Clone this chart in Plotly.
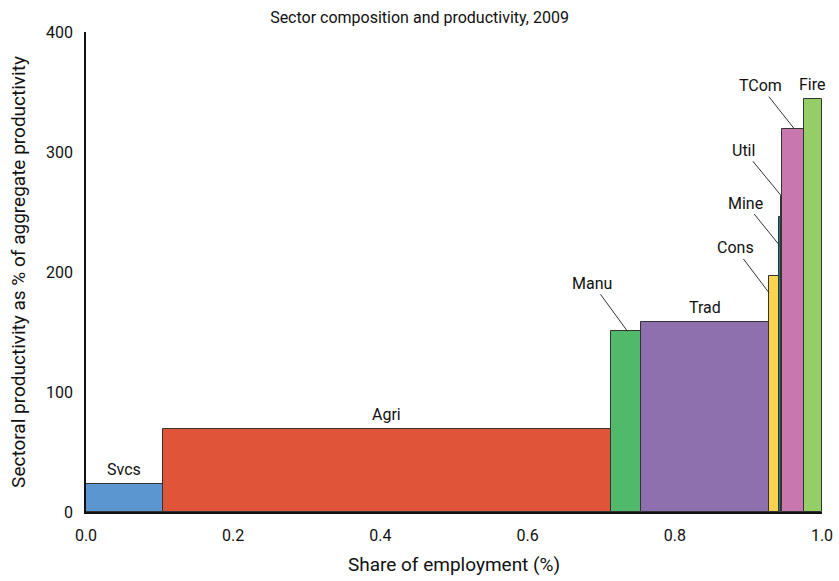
import plotly.graph_objects as go

sectors = ["Svcs", "Agri", "Manu", "Trad", "Cons", "Mine", "Util", "TCom", "Fire"]
shares = [0.1046, 0.6085, 0.0410, 0.1740, 0.0138, 0.0021, 0.0020, 0.0293, 0.0247]
productivity = [23, 69, 151, 158.5, 196.5, 246, 263, 319.5, 344]
colors = ["#5B96D1", "#E0553A", "#51B96A", "#8E70AE", "#FDD24E", "#1F7B85", "#D2691E", "#C877AF", "#95CD67"]

# leader-line labels: (ax, ay, y at leader tip, x fraction across bar)
arrow_labels = {
    "Manu": (-35, -48, 150.6, 0.55),
    "Cons": (-34, -45, 182.6, 0.0),
    "Mine": (-34, -42, 222.5, 0.0),
    "Util": (-37, -45, 264, 0.0),
    "TCom": (-34, -43, 319.5, 0.55),
}

FONT = "Roboto, sans-serif"
FS = 16

lefts = []
acc = 0.0
for s in shares:
    lefts.append(acc)
    acc += s
centers = [l + s / 2 for l, s in zip(lefts, shares)]

fig = go.Figure()
fig.add_trace(go.Bar(
    x=centers, y=productivity, width=shares,
    marker=dict(color=colors, line=dict(color="#333333", width=1)),
    hoverinfo="skip", showlegend=False,
))

annotations = []
for name, l, s, c, p in zip(sectors, lefts, shares, centers, productivity):
    if name in arrow_labels:
        ax, ay, ytip, frac = arrow_labels[name]
        annotations.append(dict(
            x=l + s * frac, y=ytip, xref="x", yref="y", text=name,
            showarrow=True, arrowhead=0, arrowwidth=1, arrowcolor="#333333",
            ax=ax, ay=ay, standoff=0, font=dict(size=FS, color="#111111", family=FONT),
        ))
    else:
        annotations.append(dict(
            x=c, y=p, xref="x", yref="y", text=name, showarrow=False,
            yanchor="bottom", yshift=3, font=dict(size=FS, color="#111111", family=FONT),
        ))

W, H = 839, 581
fig.update_layout(
    width=W, height=H,
    margin=dict(l=86, r=17, t=32, b=69, autoexpand=False),
    paper_bgcolor="white", plot_bgcolor="white",
    font=dict(family=FONT, size=FS, color="#111111"),
    title=dict(text="Sector composition and productivity, 2009", x=0.5, xanchor="center",
               y=1 - 17 / H, yanchor="middle", font=dict(size=FS, family=FONT)),
    bargap=0,
    annotations=annotations,
    xaxis=dict(range=[0, 1], tickvals=[0, 0.2, 0.4, 0.6, 0.8, 1.0], tickformat=".1f",
               showline=True, linecolor="#111111", linewidth=1.5, showgrid=False, zeroline=False,
               ticks="outside", ticklen=8, tickcolor="rgba(0,0,0,0)", ticklabeloverflow="allow",
               title=dict(text="Share of employment (%)", standoff=14)),
    yaxis=dict(range=[0, 400], tickvals=[0, 100, 200, 300, 400],
               showline=True, linecolor="#111111", linewidth=1.5, showgrid=False, zeroline=False,
               ticks="outside", ticklen=8, tickcolor="rgba(0,0,0,0)",
               title=dict(text="Sectoral productivity as % of aggregate productivity", standoff=15)),
)

fig.write_html(
    "out.html",
    config={"displayModeBar": False},
    post_script="document.body.style.margin='0';document.body.style.overflow='hidden';",
)
